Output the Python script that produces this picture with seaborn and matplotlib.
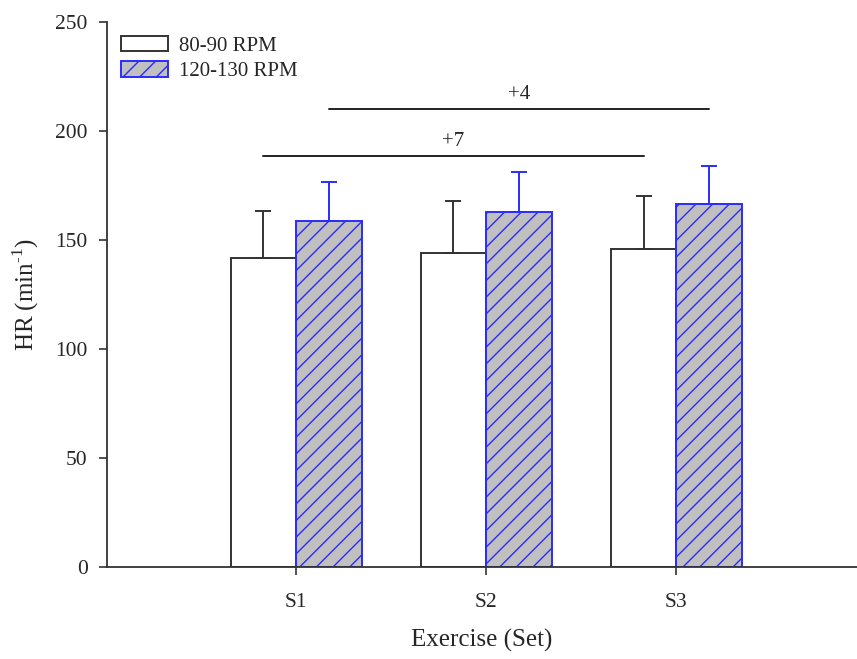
import pandas as pd
import matplotlib.pyplot as plt
import matplotlib.patches as mpatches
import seaborn as sns

# Data
sets = ['S1', 'S2', 'S3']
groups = ['80-90 RPM', '120-130 RPM']
hr_slow = [141.8, 144.2, 146.0]
hr_fast = [158.9, 163.0, 166.5]
sd_slow = [21.4, 23.8, 24.0]
sd_fast = [17.8, 18.0, 17.5]

# significance bars: (label, group index, from set, to set, height)
sig_labels = ['+7', '+4']
sig_groups = [0, 1]
sig_from = [0, 0]
sig_to = [2, 2]
sig_heights = [188.5, 210.0]

df = pd.DataFrame({
    'set': sets * 2,
    'group': [groups[0]] * 3 + [groups[1]] * 3,
    'hr': hr_slow + hr_fast,
})

sns.set_style('ticks')
plt.rcParams['font.family'] = ['Liberation Serif', 'DejaVu Serif']
plt.rcParams['mathtext.fontset'] = 'custom'
plt.rcParams['mathtext.rm'] = 'Liberation Serif'
plt.rcParams['hatch.linewidth'] = 1.0

fig = plt.figure(figsize=(8.57, 6.59), dpi=100)
ax = fig.add_axes([107 / 857, 92 / 659, 750 / 857, 545 / 659])

face = {groups[0]: 'white', groups[1]: '#c0c0c0'}
edge = {groups[0]: '#333333', groups[1]: '#2b2bff'}

sns.barplot(data=df, x='set', y='hr', hue='group', hue_order=groups,
            order=sets, palette=face, width=0.69, errorbar=None,
            linewidth=1.4, ax=ax, legend=False)

centers = {}
for gi, (cont, g) in enumerate(zip(ax.containers, groups)):
    xs = []
    for bar in cont:
        bar.set_edgecolor(edge[g])
        bar.set_facecolor(face[g])
        if gi == 1:
            bar.set_hatch('//')
        xs.append(bar.get_x() + bar.get_width() / 2)
    centers[gi] = xs
    vals = hr_slow if gi == 0 else hr_fast
    sds = sd_slow if gi == 0 else sd_fast
    ax.errorbar(xs, vals, yerr=[[0] * 3, sds], fmt='none', ecolor=edge[g],
                elinewidth=1.4, capsize=5.5, capthick=1.4, zorder=1)

for lab, gi, a, b, h in zip(sig_labels, sig_groups, sig_from, sig_to, sig_heights):
    x0, x1 = centers[gi][a], centers[gi][b]
    ax.plot([x0, x1], [h, h], color='#222222', lw=1.4)
    ax.text((x0 + x1) / 2, h + 2.2, lab, ha='center', va='bottom', fontsize=15)

ax.set_xlim(-0.995, 2.95)
ax.set_ylim(0, 250)
ax.set_yticks([0, 50, 100, 150, 200, 250])
ax.tick_params(axis='both', labelsize=15.5, length=6, width=1.2, color='#333333')
ax.tick_params(axis='y', pad=8)
ax.tick_params(axis='x', pad=13)
for s in ['left', 'bottom']:
    ax.spines[s].set_linewidth(1.3)
    ax.spines[s].set_color('#333333')
sns.despine(ax=ax)

ax.set_xlabel('Exercise (Set)', fontsize=18, labelpad=12)
ax.set_ylabel('HR (min$^{\\text{-1}}$)', fontsize=18, labelpad=10)

handles = [mpatches.Patch(facecolor=face[g], edgecolor=edge[g],
                          hatch='//' if i == 1 else None, linewidth=1.4)
           for i, g in enumerate(groups)]
ax.legend(handles=handles, labels=groups, loc='upper left',
          bbox_to_anchor=(0.0, 1.0), frameon=False, fontsize=15,
          handlelength=2.3, handleheight=0.8, handletextpad=0.52,
          labelspacing=0.25, borderaxespad=0.2, borderpad=0.45)

plt.savefig('out.png', dpi=100)
plt.close()
